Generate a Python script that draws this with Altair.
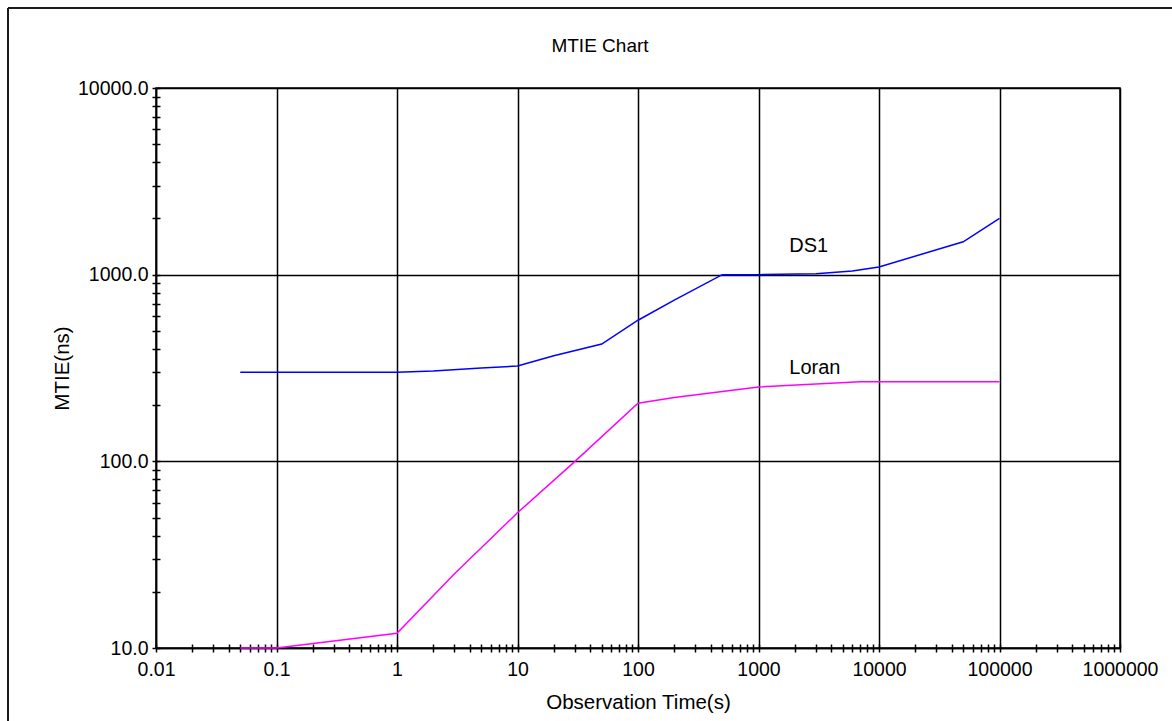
import altair as alt
import pandas as pd

# ---- data ----
ds1_t = [0.05, 1, 2, 5, 10, 20, 50, 100, 200, 500, 1000, 3000, 6000, 10000, 50000, 100000]
ds1_v = [300, 300, 305, 316, 324, 368, 425, 570, 730, 1000, 1000, 1010, 1045, 1100, 1500, 2000]

loran_t = [0.05, 0.1, 1, 3, 10, 30, 100, 200, 1000, 7000, 100000]
loran_v = [10, 10, 12, 25, 53, 100, 205, 220, 250, 267, 267]

series_names = ["DS1", "Loran"]
series_colors = ["#0000FF", "#FF00FF"]

label_text = ["DS1", "Loran"]
label_t = [1800, 1800]
label_v = [1320, 293]

x_decades = [0.01, 0.1, 1, 10, 100, 1000, 10000, 100000, 1000000]
y_decades = [10, 100, 1000, 10000]
minor_mult = [2, 3, 4, 5, 6, 7, 8, 9]

x_ticks = sorted(x_decades + [m * d for d in x_decades[:-1] for m in minor_mult])
y_ticks = sorted(y_decades + [m * d for d in y_decades[:-1] for m in minor_mult])

FONT = "Liberation Sans"
TICK = 4

df = pd.concat([
    pd.DataFrame({"series": "DS1", "t": ds1_t, "mtie": ds1_v, "order": range(len(ds1_t))}),
    pd.DataFrame({"series": "Loran", "t": loran_t, "mtie": loran_v, "order": range(len(loran_t))}),
])
labels_df = pd.DataFrame({"text": label_text, "t": label_t, "mtie": label_v})

xlist = "[" + ",".join(repr(v) for v in x_decades) + "]"
ylist = "[" + ",".join(repr(v) for v in y_decades) + "]"
x_major = f"indexof({xlist}, datum.value) >= 0"
y_major = f"indexof({ylist}, datum.value) >= 0"

x_scale = alt.Scale(type="log", domain=[0.01, 1000000], nice=False)
y_scale = alt.Scale(type="log", domain=[10, 10000], nice=False)

x_axis = alt.Axis(
    orient="bottom",
    values=x_ticks,
    tickCount=500,
    labelExpr=f"{x_major} ? '' + datum.value : ''",
    title="Observation Time(s)",
    grid=True,
    gridOpacity={"condition": {"test": x_major, "value": 1}, "value": 0},
    tickSize=TICK,
    labelPadding=8,
    labelOverlap=False,
    labelFlush=False,
    titleY=60,
    titleBaseline="alphabetic",
)
y_axis = alt.Axis(
    orient="left",
    values=y_ticks,
    tickCount=500,
    labelExpr=f"{y_major} ? format(datum.value, '.1f') : ''",
    title="MTIE(ns)",
    grid=True,
    gridOpacity={"condition": {"test": y_major, "value": 1}, "value": 0},
    tickSize=TICK,
    labelPadding=4,
    labelOverlap=False,
    labelFlush=False,
    titleX=-88,
    titleY=280,
    titleBaseline="alphabetic",
)

# inner halves of the ticks (ticks straddle the axis line in the reference)
x_axis_in = alt.Axis(
    orient="bottom", values=x_ticks, tickCount=500, offset=-TICK, tickSize=TICK,
    labels=False, domain=False, grid=False, title=None,
)
y_axis_in = alt.Axis(
    orient="left", values=y_ticks, tickCount=500, offset=-TICK, tickSize=TICK,
    labels=False, domain=False, grid=False, title=None,
)

lines = alt.Chart(df).mark_line(strokeWidth=1.5).encode(
    x=alt.X("t:Q", scale=x_scale, axis=x_axis),
    y=alt.Y("mtie:Q", scale=y_scale, axis=y_axis),
    color=alt.Color("series:N", scale=alt.Scale(domain=series_names, range=series_colors), legend=None),
    detail="series:N",
    order="order:Q",
)

inner_ticks = alt.Chart(df).mark_point(opacity=0).encode(
    x=alt.X("t:Q", scale=x_scale, axis=x_axis_in),
    y=alt.Y("mtie:Q", scale=y_scale, axis=y_axis_in),
)

texts = alt.Chart(labels_df).mark_text(
    align="left", baseline="alphabetic", font=FONT, fontSize=20, color="black"
).encode(
    x=alt.X("t:Q", scale=x_scale, axis=None),
    y=alt.Y("mtie:Q", scale=y_scale, axis=None),
    text="text:N",
)

one = pd.DataFrame({"k": [0]})
title_mark = alt.Chart(one).mark_text(
    align="center", baseline="alphabetic", font=FONT, fontSize=19, color="black"
).encode(x=alt.value(444), y=alt.value(-36), text=alt.value("MTIE Chart"))

frame_left = alt.Chart(one).mark_rule(color="#1a1a1a", strokeWidth=2).encode(
    x=alt.value(-148), y=alt.value(-80), y2=alt.value(640)
)
frame_top = alt.Chart(one).mark_rule(color="#1a1a1a", strokeWidth=2).encode(
    x=alt.value(-148), x2=alt.value(1020), y=alt.value(-80)
)

chart = alt.layer(lines, inner_ticks, texts, title_mark, frame_left, frame_top).resolve_axis(
    x="independent", y="independent"
).properties(
    width=964,
    height=560,
    padding={"left": 156, "top": 88, "right": 52, "bottom": 73},
    autosize=alt.AutoSizeParams(type="none"),
    background="white",
).configure_view(
    stroke="black", strokeWidth=1.5
).configure_axis(
    labelFont=FONT, labelFontSize=19.5, labelColor="black",
    titleFont=FONT, titleFontSize=20.5, titleFontWeight="normal", titleColor="black",
    domainColor="black", domainWidth=1.5,
    tickColor="black", tickWidth=1.5,
    gridColor="black", gridWidth=1.5,
)

chart.save("out.html", embed_options={"renderer": "svg", "actions": False})
